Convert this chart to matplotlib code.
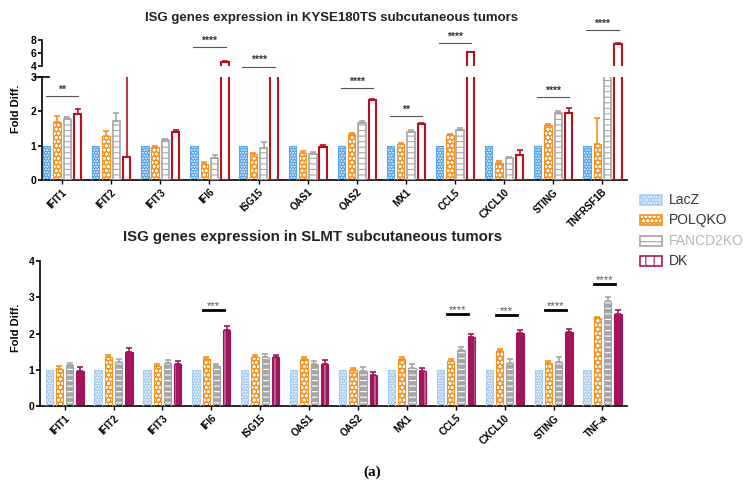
import numpy as np
import matplotlib.pyplot as plt
from matplotlib.patches import Rectangle

plt.rcParams['font.family'] = ['Liberation Sans', 'DejaVu Sans']
plt.rcParams['hatch.linewidth'] = 0.8

# ---- data: KYSE180TS (top panel) ----
top_genes = ['IFIT1', 'IFIT2', 'IFIT3', 'IFI6', 'ISG15', 'OAS1', 'OAS2',
             'MX1', 'CCL5', 'CXCL10', 'STING', 'TNFRSF1B']
top_lacz = [1, 1, 1, 1, 1, 1, 1, 1, 1, 1, 1, 1]
top_polq = [1.69, 1.28, 0.97, 0.48, 0.77, 0.79, 1.35, 1.06, 1.30, 0.50, 1.61, 1.04]
top_polq_err = [1.88, 1.43, 1.00, 0.53, 0.80, 0.85, 1.38, 1.09, 1.35, 0.56, 1.64, 1.82]
top_fanc = [1.78, 1.72, 1.16, 0.63, 0.92, 0.77, 1.66, 1.40, 1.47, 0.63, 1.95, 3.5]
top_fanc_err = [1.84, 1.96, 1.20, 0.72, 1.10, 0.82, 1.72, 1.45, 1.51, 0.66, 2.00, 3.5]
top_dk = [1.93, 0.68, 1.40, 4.6, 3.6, 0.97, 2.32, 1.62, 6.1, 0.72, 1.95, 7.4]
top_dk_err = [2.08, 3.5, 1.45, 4.7, 3.6, 1.01, 2.36, 1.66, 6.2, 0.89, 2.10, 7.5]
# significance: (gene index, height, stars)
top_sig = [(0, 2.44, '**'), (3, 6.9, '****'), (4, 3.9, '****'), (6, 2.69, '****'),
           (7, 1.86, '**'), (8, 7.5, '****'), (10, 2.42, '****'), (11, 9.5, '****')]

# ---- data: SLMT (bottom panel) ----
bot_genes = ['IFIT1', 'IFIT2', 'IFIT3', 'IFI6', 'ISG15', 'OAS1', 'OAS2',
             'MX1', 'CCL5', 'CXCL10', 'STING', 'TNF-a']
bot_lacz = [1, 1, 1, 1, 1, 1, 1, 1, 1, 1, 1, 1]
bot_polq = [1.03, 1.34, 1.10, 1.30, 1.34, 1.30, 1.00, 1.29, 1.25, 1.52, 1.19, 2.43]
bot_polq_err = [1.10, 1.40, 1.15, 1.36, 1.40, 1.36, 1.06, 1.36, 1.30, 1.58, 1.25, 2.47]
bot_fanc = [1.12, 1.21, 1.19, 1.10, 1.34, 1.15, 0.97, 1.06, 1.55, 1.19, 1.22, 2.90]
bot_fanc_err = [1.19, 1.31, 1.26, 1.17, 1.43, 1.25, 1.08, 1.16, 1.64, 1.31, 1.34, 3.00]
bot_dk = [0.97, 1.48, 1.15, 2.11, 1.34, 1.15, 0.85, 0.97, 1.90, 2.01, 2.03, 2.55]
bot_dk_err = [1.08, 1.59, 1.25, 2.20, 1.40, 1.28, 0.94, 1.06, 1.99, 2.10, 2.12, 2.64]
bot_sig = [(3, 2.65, '***'), (8, 2.55, '****'), (9, 2.52, '***'),
           (10, 2.66, '****'), (11, 3.38, '****')]

legend_labels = ['LacZ', 'POLQKO', 'FANCD2KO', 'DK']

offsets = [-0.315, -0.105, 0.105, 0.315]
bw = 0.15

# styles: (face, hatch colour, hatch, outline, outline width)
top_styles = [('#5aa5e8', 'white', '......', '#5aa5e8', 0.8),
              ('#f7901e', 'white', 'oooo', '#f7901e', 0.8),
              ('white', '#a6a6a6', '---', '#a6a6a6', 1.2),
              ('white', 'white', '', '#b5121b', 1.5)]
bot_styles = [('#a9cdf2', 'white', '......', '#a9cdf2', 0.8),
              ('#f7901e', 'white', 'oooo', '#f7901e', 0.8),
              ('#a6a6a6', 'white', '---', '#a6a6a6', 0.8),
              ('#a3155a', '#c9a3b6', '|', '#a3155a', 0.8)]


def draw_group(ax, vals, errs, style, off):
    face, hcol, hatch, edge, lw = style
    x = np.arange(len(vals)) + off
    ax.bar(x, vals, bw, color=face, edgecolor=hcol, hatch=hatch, linewidth=0, zorder=2)
    ax.bar(x, vals, bw, fill=False, edgecolor=edge, linewidth=lw, zorder=3)
    if errs is not None:
        up = np.array(errs) - np.array(vals)
        ax.errorbar(x, vals, yerr=[np.zeros(len(vals)), up], fmt='none',
                    ecolor=edge, elinewidth=1.2, capsize=2, capthick=1.2, zorder=4)


fig = plt.figure(figsize=(7.49, 4.88), dpi=100)

# ---------------- top panel (broken axis) ----------------
ax_hi = fig.add_axes([0.056, 0.865, 0.781, 0.053])
ax_lo = fig.add_axes([0.056, 0.631, 0.781, 0.211])

top_sets = [(top_lacz, None), (top_polq, top_polq_err),
            (top_fanc, top_fanc_err), (top_dk, top_dk_err)]
for ax in (ax_hi, ax_lo):
    for (v, e), st, off in zip(top_sets, top_styles, offsets):
        draw_group(ax, v, e, st, off)
    ax.set_xlim(-0.41, 11.5)
    for s in ('top', 'right'):
        ax.spines[s].set_visible(False)
    ax.spines['left'].set_linewidth(1.2)
    ax.tick_params(axis='y', labelsize=7.5, width=1.2, length=3, pad=1)

ax_hi.set_ylim(4, 8)
ax_hi.set_yticks([4, 6, 8])
ax_hi.spines['bottom'].set_visible(False)
ax_hi.set_xticks([])
ax_lo.set_ylim(0, 3)
ax_lo.set_yticks([0, 1, 2, 3])
ax_lo.spines['bottom'].set_linewidth(1.2)
ax_lo.set_xticks(np.arange(len(top_genes)))
ax_lo.set_xticklabels(top_genes, rotation=45, ha='right', rotation_mode='anchor',
                      fontsize=7, fontweight='bold')
ax_lo.tick_params(axis='x', length=3, width=1, pad=2)
for ax in (ax_hi, ax_lo):
    for lab in ax.get_yticklabels():
        lab.set_fontweight('bold')
ax_lo.plot([-0.012, 0.012], [1, 1], transform=ax_lo.transAxes, color='black',
           lw=1.2, clip_on=False)

for i, h, stars in top_sig:
    ax = ax_hi if h > 3 else ax_lo
    ax.plot([i - 0.33, i + 0.33], [h, h], color='#555555', lw=0.8, clip_on=False, zorder=5)
    ax.annotate(stars, (i, h), xytext=(0, 1), textcoords='offset points',
                ha='center', va='bottom', fontsize=7.5, fontweight='bold',
                color='#333333', annotation_clip=False)

fig.text(0.443, 1 - 18 / 488, 'ISG genes expression in KYSE180TS subcutaneous tumors',
         ha='center', va='center', fontsize=9.5, fontweight='bold', color='#222222')
fig.text(0.022, 1 - 109 / 488, 'Fold Diff.', rotation=90, ha='center', va='center',
         fontsize=8, fontweight='bold')

# ---------------- bottom panel ----------------
ax_b = fig.add_axes([0.053, 0.168, 0.784, 0.297])
bot_sets = [(bot_lacz, None), (bot_polq, bot_polq_err),
            (bot_fanc, bot_fanc_err), (bot_dk, bot_dk_err)]
for (v, e), st, off in zip(bot_sets, bot_styles, offsets):
    draw_group(ax_b, v, e, st, off)
ax_b.set_xlim(-0.51, 11.5)
ax_b.set_ylim(0, 4)
ax_b.set_yticks([0, 1, 2, 3, 4])
for s in ('top', 'right'):
    ax_b.spines[s].set_visible(False)
ax_b.spines['left'].set_linewidth(1.2)
ax_b.spines['bottom'].set_linewidth(1.2)
ax_b.set_xticks(np.arange(len(bot_genes)))
ax_b.set_xticklabels(bot_genes, rotation=45, ha='right', rotation_mode='anchor',
                     fontsize=7, fontweight='bold')
ax_b.tick_params(axis='x', length=3, width=1, pad=2)
ax_b.tick_params(axis='y', labelsize=7.5, width=1.2, length=3, pad=1)
for lab in ax_b.get_yticklabels():
    lab.set_fontweight('bold')

for i, h, stars in bot_sig:
    ax_b.plot([i - 0.18, i + 0.26], [h, h], color='black', lw=2, zorder=5)
    ax_b.annotate(stars, (i + 0.04, h), xytext=(0, -1), textcoords='offset points',
                  ha='center', va='bottom', fontsize=8, color='#555555', zorder=4)

fig.text(0.417, 1 - 237 / 488, 'ISG genes expression in SLMT subcutaneous tumors',
         ha='center', va='center', fontsize=10.8, fontweight='bold', color='#222222')
fig.text(0.022, 1 - 328 / 488, 'Fold Diff.', rotation=90, ha='center', va='center',
         fontsize=8, fontweight='bold')

# ---------------- legend ----------------
leg_styles = [('#a9cdf2', 'white', '......', '#a9cdf2'),
              ('#f7901e', 'white', 'oooo', '#f7901e'),
              ('white', '#a6a6a6', '---', '#a6a6a6'),
              ('white', '#a3155a', '||', '#a3155a')]
leg_text_col = ['#333333', '#333333', '#b5b5b5', '#333333']
for k, (lab, st) in enumerate(zip(legend_labels, leg_styles)):
    yc = 1 - (200 + k * 20.3) / 488
    face, hcol, hatch, edge = st
    fig.patches.append(Rectangle((640 / 749, yc - 5 / 488), 22 / 749, 10 / 488,
                                 transform=fig.transFigure, facecolor=face,
                                 edgecolor=hcol, hatch=hatch, lw=0))
    fig.patches.append(Rectangle((640 / 749, yc - 5 / 488), 22 / 749, 10 / 488,
                                 transform=fig.transFigure, fill=False,
                                 edgecolor=edge, lw=1.2))
    fig.text(669 / 749, yc, lab, ha='left', va='center', fontsize=10,
             color=leg_text_col[k])

fig.text(372 / 749, 1 - 472 / 488, '(a)', ha='center', va='center', fontsize=11,
         family='Liberation Serif', fontweight='bold')

fig.savefig('out.png', dpi=100)
